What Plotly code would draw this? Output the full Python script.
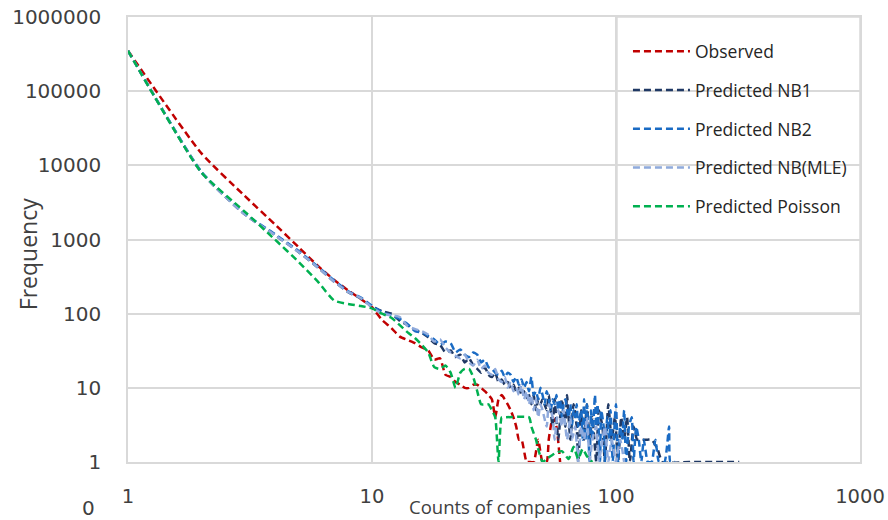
import plotly.graph_objects as go

# ---------------- data ----------------
obs_x = list(range(1, 42)) + [43, 44, 46, 48, 50, 52, 53, 54, 55, 57, 59]
obs_y = [350000, 14500, 3900, 1600, 790, 440, 285, 205, 158, 122,
         82, 64, 49, 44, 40, 35, 32, 24, 25, 15,
         14, 12, 11, 10, 10, 11, 11, 10, 9, 8,
         7, 4, 7, 8, 7, 6, 5, 4, 3, 2,
         2, 1, 1, 1, 2, 1, 1, 2, 3, 4, 3, 1]

nb1_x = list(range(1, 51)) + [52, 53, 55, 56, 58, 60, 62, 63, 65, 67, 69, 70, 72, 74, 76, 78, 80,
                              83, 85, 88, 90, 93, 96, 99, 102, 105, 108, 111, 114, 118, 122, 126,
                              130, 135, 140, 148, 155, 200, 320]
nb1_y = [350000, 8000, 2200, 1150, 680, 420, 270, 195, 160, 125,
         108, 100, 80, 70, 60, 55, 48, 40, 38, 30,
         32, 26, 28, 22, 25, 20, 18, 16, 19, 15,
         14, 16, 12, 13, 11, 12, 10, 11, 9, 10,
         8, 9, 7, 8, 6, 8, 5, 7, 6, 7,
         5, 8, 3, 7, 2, 7, 3, 8, 2, 6, 3, 1, 5, 2, 6, 2, 4,
         1, 5, 3, 1, 6, 2, 4, 1, 4, 2, 4, 1, 3, 2, 2,
         2, 2, 2, 1.5, 1, 1, 1]

nb2_x = list(range(1, 71)) + [72, 73, 74, 75, 76, 78, 79, 80, 82, 83, 84, 86, 87, 89, 90, 92, 94,
                              95, 97, 99, 100, 102, 104, 106, 108, 110, 113, 116, 118, 121, 124,
                              127, 130, 135, 140, 145, 150, 158, 165, 167, 175]
nb2_y = [350000, 8200, 2250, 1180, 700, 430, 280, 200, 165, 128,
         105, 95, 85, 72, 58, 56, 50, 45, 38, 42,
         40, 30, 33, 28, 26, 30, 28, 22, 24, 19,
         18, 16, 15, 17, 14, 16, 15, 12, 14, 11,
         13, 10, 12, 9, 14, 8, 9, 7, 10, 8,
         6, 9, 7, 5, 7, 6, 8, 5, 7, 4,
         6, 7, 5, 4, 6, 3, 5, 4, 6, 3,
         5, 2, 7, 2, 6, 1, 5, 2, 8, 3, 6, 1, 5, 3, 1, 4, 2,
         5, 1, 4, 6, 1, 3, 2, 5, 1, 3, 4, 1, 3, 2,
         1, 2, 1, 1, 2, 1, 1, 3, 1, 1]

mle_x = list(range(1, 51)) + [52, 53, 55, 56, 58, 60, 61, 63, 65, 66, 68, 70, 72, 74, 76, 78, 80,
                              83, 85, 88, 90, 93, 96, 100, 104, 108]
mle_y = [350000, 8000, 2200, 1150, 680, 420, 270, 195, 162, 122,
         100, 95, 90, 68, 62, 58, 52, 42, 45, 35,
         30, 27, 25, 28, 22, 20, 24, 18, 20, 16,
         15, 18, 13, 12, 14, 10, 12, 9, 10, 8,
         11, 7, 9, 6, 8, 5, 7, 4, 6, 5,
         3, 6, 4, 2, 5, 3, 5, 2, 4, 2, 3, 1, 3, 2, 4, 1, 2,
         3, 1, 2, 3, 1, 2, 1, 2, 1]

poi_x = list(range(1, 36)) + [44, 45, 47, 48, 50, 52, 56, 60, 64, 67, 70, 73, 76, 80]
poi_y = [350000, 8000, 2400, 1000, 500, 270, 150, 135, 127, 118,
         100, 88, 70, 56, 47, 38, 30, 19, 18, 20,
         16, 10, 16, 18, 18, 14, 9, 6, 6, 6,
         5, 4, 1, 4, 4, 4, 3, 2, 1.5, 1,
         1.1, 1.3, 1.4, 1.1, 1.6, 1.1, 1.5, 1.2, 1]

series = [
    ("Observed", obs_x, obs_y, "#C00000"),
    ("Predicted NB1", nb1_x, nb1_y, "#1F3864"),
    ("Predicted NB2", nb2_x, nb2_y, "#1A6BC4"),
    ("Predicted NB(MLE)", mle_x, mle_y, "#8FAADC"),
    ("Predicted Poisson", poi_x, poi_y, "#00B050"),
]

x_ticks = [1, 10, 100, 1000]
y_ticks = [1, 10, 100, 1000, 10000, 100000, 1000000]

# ---------------- figure ----------------
fig = go.Figure()
for name, xs, ys, col in series:
    fig.add_trace(go.Scatter(
        x=xs, y=ys, name=name, mode="lines", legendgroup=name,
        line=dict(color=col, width=2.5, dash="7px,4px", shape="spline", smoothing=0.5),
    ))

tick_font = dict(family="DejaVu Sans", size=20, color="#404040")
xtick_font = dict(family="DejaVu Sans", size=19.5, color="#404040")
grid = "#D9D9D9"

fig.update_layout(
    width=888, height=520,
    margin=dict(l=128, r=28, t=17, b=58, autoexpand=False),
    paper_bgcolor="white", plot_bgcolor="white",
    showlegend=True,
    legend=dict(
        x=0.683, y=0.963, xanchor="left", yanchor="top",
        bgcolor="rgba(0,0,0,0)", borderwidth=0,
        font=dict(family="Open Sans", size=17.5, color="#262626"),
        tracegroupgap=13, itemwidth=57,
    ),
    xaxis=dict(
        type="log", range=[0, 3], tickvals=x_ticks, ticktext=[str(v) for v in x_ticks],
        showgrid=True, gridcolor=grid, gridwidth=1.5, automargin=False,
        showline=True, linecolor=grid, linewidth=1.5, mirror=True,
        ticks="", tickfont=xtick_font, ticklabelstandoff=16, zeroline=False,
        ticklabeloverflow="allow",
    ),
    yaxis=dict(
        type="log", range=[0, 6], tickvals=y_ticks, ticktext=[str(v) for v in y_ticks],
        showgrid=True, gridcolor=grid, gridwidth=1.5, automargin=False,
        showline=True, linecolor=grid, linewidth=1.5, mirror=True,
        ticks="", tickfont=tick_font, ticklabelstandoff=21, zeroline=False,
        ticklabeloverflow="allow",
    ),
    shapes=[dict(
        type="rect", xref="paper", yref="paper", x0=0.668, x1=1.0, y0=0.335, y1=1.0,
        fillcolor="white", line=dict(color=grid, width=1.5), layer="between",
    )],
    annotations=[
        dict(text="Counts of companies", xref="paper", yref="paper", x=0.508, y=-0.101,
             showarrow=False, font=dict(family="Open Sans", size=18.5, color="#404040"),
             xanchor="center", yanchor="middle"),
        dict(text="Frequency", xref="paper", yref="paper", x=-0.1366, y=0.467,
             showarrow=False, textangle=-90,
             font=dict(family="Open Sans", size=23, color="#404040"),
             xanchor="center", yanchor="middle"),
        dict(text="0", xref="paper", yref="paper", x=-0.0546, y=-0.104,
             showarrow=False, font=tick_font, xanchor="center", yanchor="middle"),
    ],
)

# remove the default 8px page margin so the figure sits at the window origin
fig.write_html("out.html",
               config={"displayModeBar": False},
               post_script="document.body.style.margin='0';document.body.style.overflow='hidden';")
